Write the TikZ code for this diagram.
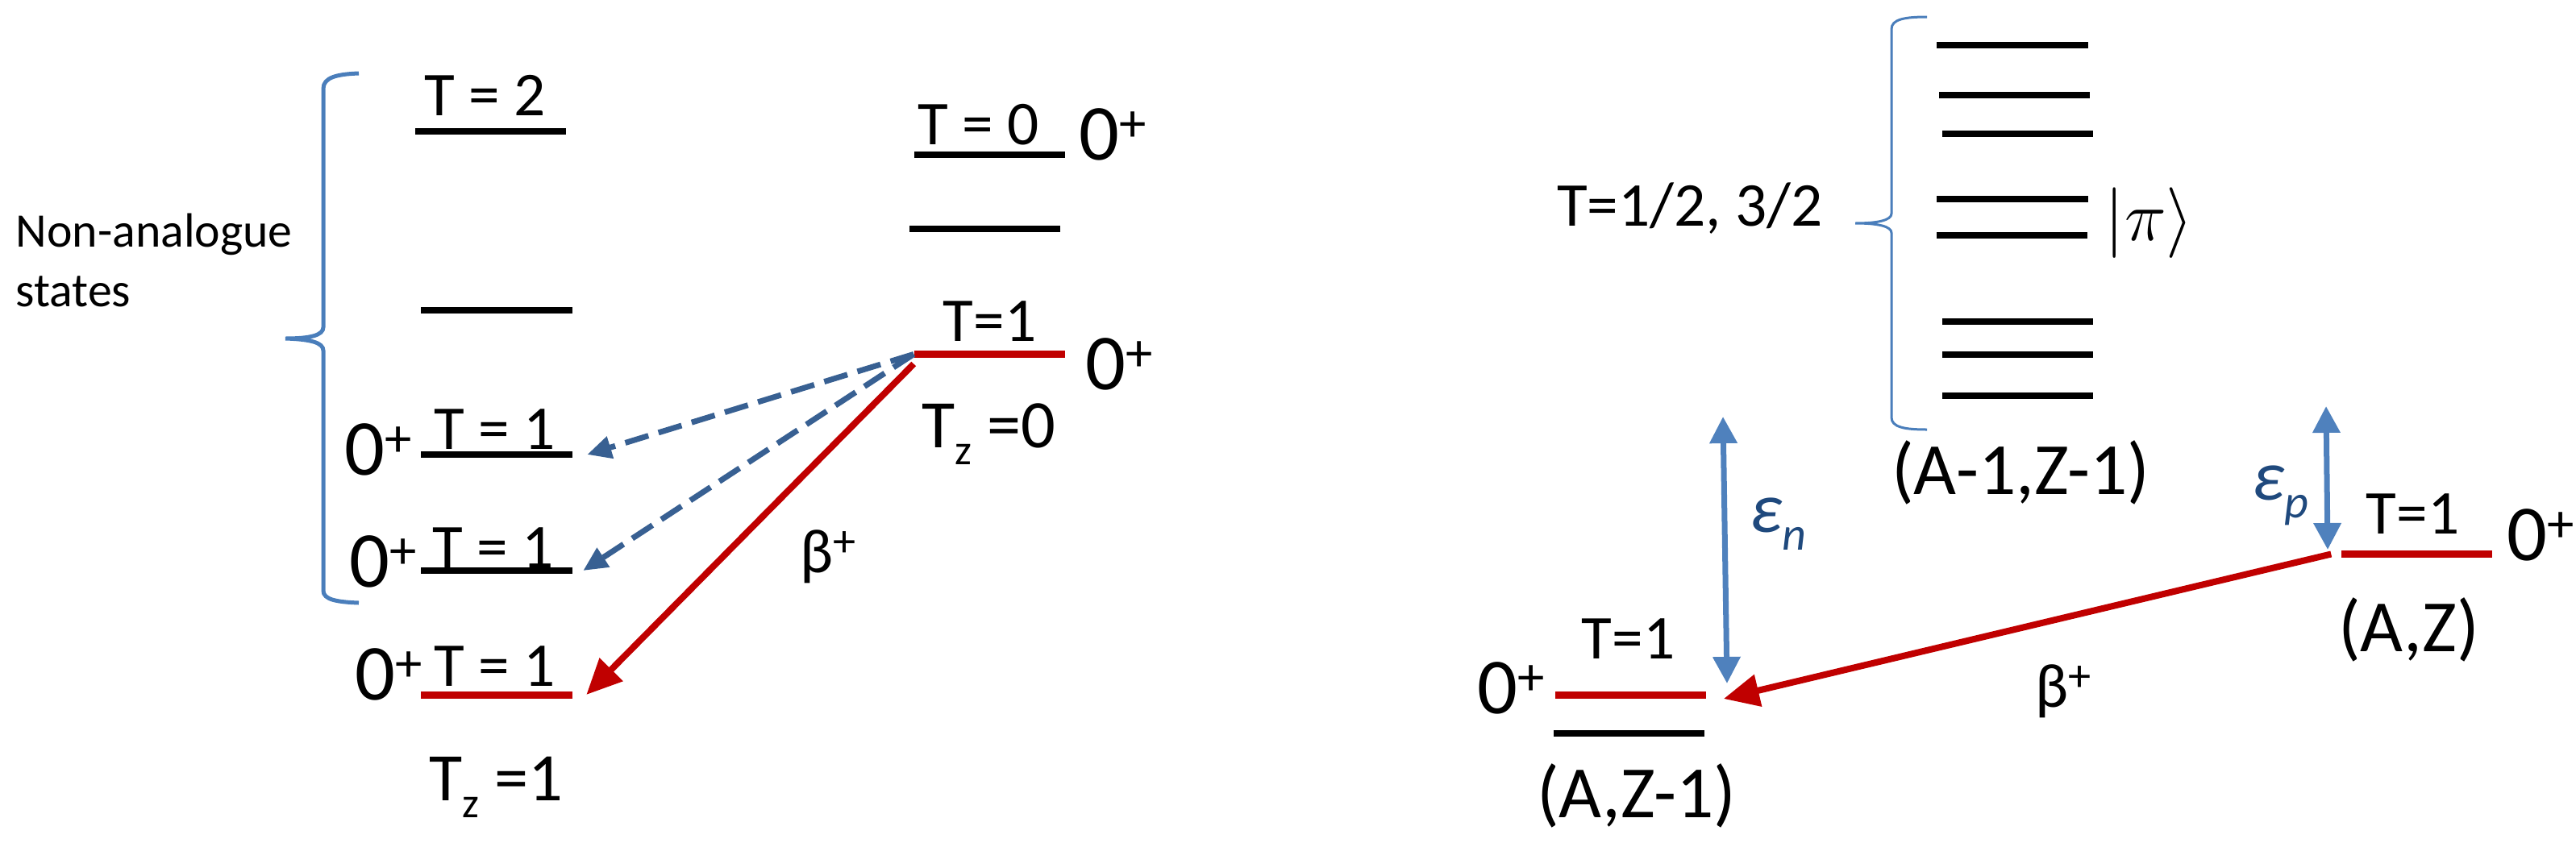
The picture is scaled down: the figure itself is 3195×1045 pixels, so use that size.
\documentclass[tikz,border=0pt]{standalone}
\usepackage{fontspec}
\setmainfont{Carlito}
\usetikzlibrary{arrows.meta}
\definecolor{betared}{RGB}{192,0,0}
\definecolor{mixblue}{RGB}{56,96,146}
\definecolor{bracblue}{RGB}{74,126,187}
\definecolor{gapblue}{RGB}{79,129,189}
\definecolor{epsblue}{RGB}{31,73,125}
\newcommand{\zp}{0\raisebox{0.23em}{\fontsize{19}{19}\selectfont +}}
\newcommand{\bp}{β\raisebox{0.25em}{\fontsize{16}{16}\selectfont +}}
\newcommand{\tz}{T\raisebox{-0.26em}{\fontsize{15}{15}\selectfont z}}
\newcommand{\eps}[1]{ε\raisebox{-0.26em}{\fontsize{16.5}{16.5}\selectfont #1}}
\tikzset{
  lev/.style={fill=black, inner sep=0pt, minimum width=1.87cm, minimum height=0.08cm},
  redlev/.style={lev, fill=betared, minimum height=0.09cm},
  lab/.style={inner sep=0pt, font=\fontsize{22}{26}\selectfont},
  spin/.style={inner sep=0pt, font=\fontsize{28}{32}\selectfont},
  tzlab/.style={inner sep=0pt, font=\fontsize{24}{28}\selectfont},
  nuc/.style={inner sep=0pt, font=\fontsize{26}{30}\selectfont},
  epslab/.style={inner sep=0pt, text=epsblue, font=\fontsize{25}{30}\selectfont\itshape},
  curly/.style={draw=bracblue, line width=0.05cm},
  decay/.style={betared, line width=0.08cm, -{Triangle[length=0.44cm,width=0.39cm]}},
  mixing/.style={mixblue, line width=0.07cm, dash pattern=on 0.3cm off 0.13cm, -{Triangle[length=0.3cm,width=0.27cm]}},
  egap/.style={gapblue, line width=0.07cm, {Triangle[length=0.33cm,width=0.33cm]}-{Triangle[length=0.33cm,width=0.33cm]}}
}
\begin{document}
\begin{tikzpicture}[x=0.01cm,y=-0.01cm]
  \useasboundingbox (0,0) rectangle (3195,1045);
  \node[lev] (t2) at (608.5,163) {};
  \node[lev] (na) at (616,384.5) {};
  \node[lev] (ta) at (616,564) {};
  \node[lev] (tb) at (616,708) {};
  \node[redlev] (tc) at (616,862) {};
  \node[lab,anchor=base] (t2l) at (602,143) {T = 2};
  \node[lab,anchor=base] (tal) at (614,557) {T = 1};
  \node[lab,anchor=base] (tbl) at (612,704) {T = 1};
  \node[lab,anchor=base] (tcl) at (614,851) {T = 1};
  \node[spin,anchor=base east] (taj) at (511,589) {\zp};
  \node[spin,anchor=base east] (tbj) at (517,728) {\zp};
  \node[spin,anchor=base east] (tcj) at (524,868) {\zp};
  \node[tzlab,anchor=base] (tcz) at (615,993) {\tz{} =1};
  \node[anchor=base west,align=left,inner sep=0pt,font=\fontsize{17}{20.8}\selectfont] (nas) at (19,380) {Non-analogue\\states};
  \draw[curly] (445,91) .. controls (418,92) and (401,96) .. (401,110)
    -- (401,406) .. controls (401,416) and (385,420) .. (354,420)
    .. controls (385,421) and (401,425) .. (401,435)
    -- (401,733) .. controls (401,744) and (418,747) .. (445,748);
  \node[lev] (s0) at (1227.5,192) {};
  \node[lev] (sx) at (1221.5,284) {};
  \node[redlev] (s1) at (1227.5,439.5) {};
  \node[lab,anchor=base] (s0l) at (1214,179) {T = 0};
  \node[spin,anchor=base west] (s0j) at (1338,198) {\zp};
  \node[lab,anchor=base] (s1l) at (1227.5,423) {T=1};
  \node[spin,anchor=base west] (s1j) at (1346,483) {\zp};
  \node[tzlab,anchor=base] (s1z) at (1226,555) {\tz{} =0};
  \draw[mixing] (s1.west) -- ([xshift=0.18cm]ta.east);
  \draw[mixing] (s1.west) -- ([xshift=0.13cm]tb.east);
  \draw[decay] ([yshift=-0.12cm]s1.west) -- ([xshift=0.17cm]tc.east);
  \node[lab,anchor=base west] (bl) at (992,710) {\bp};
  \node[lev] (p1) at (2496,56) {};
  \node[lev] (p2) at (2498.5,118) {};
  \node[lev] (p3) at (2502.5,166) {};
  \node[lev] (p4) at (2496,247) {};
  \node[lev] (p5) at (2495.5,292) {};
  \node[lev] (p6) at (2502.5,398.5) {};
  \node[lev] (p7) at (2502.5,440) {};
  \node[lev] (p8) at (2502.5,491) {};
  \draw[curly,line width=0.03cm] (2390,21) .. controls (2362,21) and (2346,24) .. (2346,36)
    -- (2346,265) .. controls (2346,273) and (2330,277) .. (2301,277)
    .. controls (2330,277) and (2346,281) .. (2346,289)
    -- (2346,518) .. controls (2346,530) and (2362,533) .. (2390,533);
  \node[lab,anchor=base] (pt) at (2096,280) {T=1/2, 3/2};
  \node[anchor=base west,inner sep=0pt,font=\fontsize{26}{30}\selectfont] (pi) at (2610,298) {$|\pi\rangle$};
  \node[nuc,anchor=base] (pn) at (2506,613) {(A-1,Z-1)};
  \node[redlev] (gz) at (2022.5,862.5) {};
  \node[lev] (gzb) at (2020.5,910) {};
  \node[lab,anchor=base] (gzl) at (2019.5,817.5) {T=1};
  \node[spin,anchor=base east] (gzj) at (1916,885) {\zp};
  \node[nuc,anchor=base] (gzn) at (2029.5,1014) {(A,Z-1)};
  \node[redlev] (az) at (2997.5,687.5) {};
  \node[lab,anchor=base] (azl) at (2992.5,662) {T=1};
  \node[spin,anchor=base west] (azj) at (3109,695) {\zp};
  \node[nuc,anchor=base] (azn) at (2987.5,808) {(A,Z)};
  \coordinate (entop) at (2137,517);
  \coordinate (enbot) at (2142,848);
  \draw[egap] (enbot) -- (entop);
  \node[epslab,anchor=base west] (enl) at (2170,660) {\eps{n}};
  \coordinate (eptop) at (2885,504);
  \coordinate (epbot) at (2887,682);
  \draw[egap] (epbot) -- (eptop);
  \node[epslab,anchor=base west] (epl) at (2793,620) {\eps{p}};
  \draw[decay] ([xshift=-0.12cm]az.west) -- ([xshift=0.21cm,yshift=-0.045cm]gz.east);
  \node[lab,anchor=base west] (br) at (2524,877) {\bp};
\end{tikzpicture}
\end{document}
